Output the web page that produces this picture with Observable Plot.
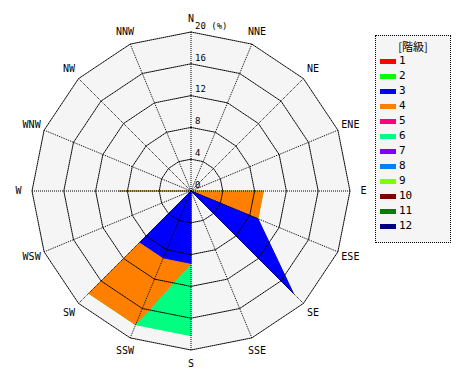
<!DOCTYPE html>
<html>
<head>
<meta charset="utf-8">
<script src="https://cdn.jsdelivr.net/npm/d3@7"></script>
<script src="https://cdn.jsdelivr.net/npm/@observablehq/plot@0.6"></script>
<style>
  html, body { margin: 0; padding: 0; background: #ffffff; color: #000; }
  #wrap { position: relative; width: 470px; height: 380px; }
  #legend {
    position: absolute; left: 375px; top: 35px; width: 74px; height: 206px;
    border: 1px dotted #000; background: #f5f5f5;
    font-family: "DejaVu Sans Mono", monospace; font-size: 11px; color: #000;
  }
  #legend .title { position: absolute; left: 0; width: 74px; top: 2px; text-align: center; color: #000;
    font-family: "Noto Sans CJK JP", "DejaVu Sans Mono", monospace; font-size: 11px; }
  #legend .row { position: absolute; left: 4px; height: 12px; }
  #legend .sw { position: absolute; left: 0; top: 3px; width: 16px; height: 5px; }
  #legend .lb { position: absolute; left: 19px; top: -2px; line-height: 14px; color: #000; }
</style>
</head>
<body>
<div id="wrap"><div id="legend"></div></div>
<script>
// 16 compass directions, clockwise from north
const directions = ["N","NNE","NE","ENE","E","ESE","SE","SSE","S","SSW","SW","WSW","W","WNW","NW","NNW"];
// wind class labels and colours
const levelNames = ["1","2","3","4","5","6","7","8","9","10","11","12"];
const levelColors = ["#ff0000","#00ff00","#0000ff","#ff8000","#ff0080","#00ff80",
                     "#8000ff","#0080ff","#80ff00","#800000","#008000","#000080"];
// frequency (%) per direction for each class
const level1  = [0,0,0,0,0,0,0,0,0,0,0,0,0,0,0,0];
const level2  = [0,0,0,0,0,0,0,0,0,0,0,0,0,0,0,0];
const level3  = [0,0,0,0,0,9.1,18.2,0,9.1,9.1,9.1,0,0,0,0,0];
const level4  = [0,0,0,0,9.1,0,0,0,0,9.1,9.1,0,9.1,0,0,0];
const level5  = [0,0,0,0,0,0,0,0,0,0,0,0,0,0,0,0];
const level6  = [0,0,0,0,0,0,0,0,9.1,0,0,0,0,0,0,0];
const level7  = [0,0,0,0,0,0,0,0,0,0,0,0,0,0,0,0];
const level8  = [0,0,0,0,0,0,0,0,0,0,0,0,0,0,0,0];
const level9  = [0,0,0,0,0,0,0,0,0,0,0,0,0,0,0,0];
const level10 = [0,0,0,0,0,0,0,0,0,0,0,0,0,0,0,0];
const level11 = [0,0,0,0,0,0,0,0,0,0,0,0,0,0,0,0];
const level12 = [0,0,0,0,0,0,0,0,0,0,0,0,0,0,0,0];
// radial grid rings and their labels
const rings = [4,8,12,16,20];
const ringLabels = ["0","4","8","12","16","20 (%)"];
const ringLabelValues = [0,4,8,12,16,20];

const levels = [level1,level2,level3,level4,level5,level6,level7,level8,level9,level10,level11,level12];
const ang = i => i * Math.PI / 8;
const px = (r, i) => r * Math.sin(ang(i));
const py = (r, i) => r * Math.cos(ang(i));

// cumulative (stacked) values
const cum = [];
let run = directions.map(() => 0);
levels.forEach((lv, k) => { run = run.map((v, i) => v + lv[i]); cum.push(run.slice()); });

const closedPoly = vals => {
  const pts = directions.map((d, i) => ({x: px(vals[i], i), y: py(vals[i], i)}));
  pts.push(pts[0]);
  return pts;
};

const marks = [];
// plotting area background
marks.push(Plot.line(closedPoly(directions.map(() => 20)), {x: "x", y: "y", fill: "#f5f5f5", stroke: "none"}));
// stacked polygons, outermost class first
for (let k = levels.length - 1; k >= 0; k--) {
  if (!levels[k].some(v => v > 0)) continue;
  marks.push(Plot.line(closedPoly(cum[k]), {x: "x", y: "y", fill: levelColors[k], stroke: levelColors[k], strokeWidth: 1}));
}
// grid rings
rings.forEach(r => {
  marks.push(Plot.line(closedPoly(directions.map(() => r)), {x: "x", y: "y", stroke: "#000", strokeWidth: 1, strokeDasharray: "1,1"}));
});
// spokes
marks.push(Plot.link(directions, {
  x1: () => 0, y1: () => 0,
  x2: (d, i) => px(20, i), y2: (d, i) => py(20, i),
  stroke: "#000", strokeWidth: 1, strokeDasharray: "1,1"
}));
// ring labels
marks.push(Plot.text(ringLabels, {
  x: () => 0, y: (d, i) => ringLabelValues[i], text: d => d,
  textAnchor: "start", dx: 4, dy: -6, fontSize: 9, fill: "#000"
}));
// direction labels
marks.push(Plot.text(directions, {
  x: (d, i) => px(21.7, i), y: (d, i) => py(21.7, i), text: d => d,
  fontSize: 10, fill: "#000"
}));

const chart = Plot.plot({
  width: 470, height: 380,
  margin: 0,
  x: {domain: [-20, 20], range: [31.5, 349.5], axis: null},
  y: {domain: [-20, 20], range: [349.5, 31.5], axis: null},
  style: {background: "transparent", fontFamily: "DejaVu Sans Mono, monospace", overflow: "visible"},
  marks
});
document.getElementById("wrap").insertBefore(chart, document.getElementById("legend"));

// legend
const lg = document.getElementById("legend");
const t = document.createElement("div");
t.className = "title"; t.textContent = "[階級]";
lg.appendChild(t);
levelNames.forEach((n, i) => {
  const row = document.createElement("div");
  row.className = "row";
  row.style.top = (20 + i * 15) + "px";
  const sw = document.createElement("div");
  sw.className = "sw"; sw.style.background = levelColors[i];
  const lb = document.createElement("div");
  lb.className = "lb"; lb.textContent = n;
  row.appendChild(sw); row.appendChild(lb);
  lg.appendChild(row);
});
</script>
</body>
</html>
